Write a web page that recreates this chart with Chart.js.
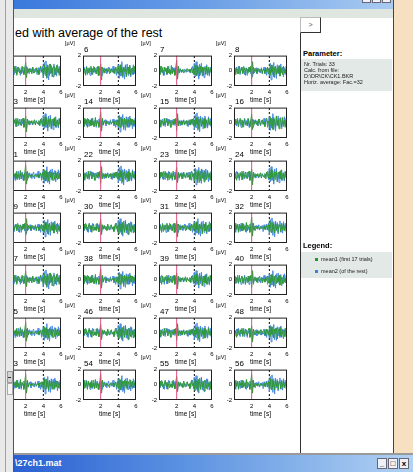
<!DOCTYPE html>
<html><head><meta charset="utf-8">
<script src="https://cdn.jsdelivr.net/npm/chart.js@4.4.1/dist/chart.umd.min.js"></script>
<style>
html,body{margin:0;padding:0;}
body{width:413px;height:472px;overflow:hidden;position:relative;background:#f7dfc2;font-family:"Liberation Sans",Arial,sans-serif;}
.abs{position:absolute;}
#left{left:0;top:0;width:13px;height:472px;background:#e9e9e9;}
#topbar{left:14px;top:0;width:379px;height:9px;background:linear-gradient(to right,#3a78dc,#6a9ee6 50%,#a9cbf1);}
#toolbar{left:14px;top:9px;width:379px;height:9px;background:#dfe5df;}
#main{left:14px;top:18px;width:286px;height:436px;background:#fff;overflow:hidden;}
#panel{left:300px;top:18px;width:93px;height:436px;background:#fff;}
#title{left:1px;top:8px;font-size:12.5px;line-height:15px;color:#000;white-space:nowrap;}
.num{font-size:8px;line-height:9px;color:#000;white-space:nowrap;}
.unit{font-size:5.5px;line-height:7px;color:#000;white-space:nowrap;}
.ptxt{font-size:5.5px;line-height:6px;color:#222;white-space:nowrap;}
.hdr{font-size:7.5px;line-height:9px;font-weight:bold;color:#000;}
#bottombar{left:14px;top:455px;width:399px;height:17px;background:linear-gradient(to right,#2a60d2,#5f95e2 45%,#b2d2f3);}
.btn{background:#eef2f8;border:1px solid #667;box-sizing:border-box;font-size:8px;line-height:9px;text-align:center;color:#000;font-weight:bold;}
canvas{position:absolute;}
</style></head>
<body>
<div id="left" class="abs">
  <div class="abs" style="left:5px;top:0;width:1px;height:472px;background:#a0a0a0"></div>
  <div class="abs" style="left:7px;top:371px;width:6px;height:12px;background:#d2d2d2;border:1px solid #999;box-sizing:border-box"></div>
  <div class="abs" style="left:8px;top:377px;width:3px;height:1px;background:#333"></div>
  <div class="abs" style="left:7px;top:383px;width:6px;height:12px;background:#f4f4f4;border:1px solid #aaa;box-sizing:border-box"></div>
</div>
<div class="abs" style="left:13px;top:0;width:1px;height:472px;background:#555"></div>
<div id="topbar" class="abs">
  <div class="abs btn" style="left:348px;top:-6px;width:9px;height:9px"></div>
  <div class="abs btn" style="left:358px;top:-6px;width:9px;height:9px"></div>
  <div class="abs btn" style="left:368px;top:-6px;width:9px;height:9px"></div>
</div>
<div id="toolbar" class="abs"></div>
<div id="main" class="abs"><div id="title" class="abs">ed with average of the rest</div></div>
<div id="panel" class="abs">
  <div class="abs" style="left:0;top:15px;width:1px;height:421px;background:#333"></div>
  <div class="abs" style="left:0;top:-1px;width:21px;height:16px;background:#fff;border-top:1px solid #bbb;border-left:1px solid #bbb;border-right:1px solid #333;border-bottom:1px solid #333;box-sizing:border-box;font-size:7px;line-height:14px;text-align:center;color:#555">&gt;</div>
  <div class="abs hdr" style="left:3px;top:31px">Parameter:</div>
  <div class="abs" style="left:1px;top:41px;width:91px;height:32px;background:#e3e9e7"></div>
  <div class="abs ptxt" style="left:4px;top:43px">Nr. Trials: 33</div>
  <div class="abs ptxt" style="left:4px;top:49px">Calc. from file:</div>
  <div class="abs ptxt" style="left:4px;top:55px">D:\DR\CK\CK1.BKR</div>
  <div class="abs ptxt" style="left:4px;top:61px">Horiz. average: Fac.=32</div>
  <div class="abs hdr" style="left:3px;top:223px">Legend:</div>
  <div class="abs" style="left:1px;top:234px;width:91px;height:26px;background:#e3e9e7"></div>
  <div class="abs" style="left:15px;top:240px;width:3px;height:3px;background:#1f9a2a"></div>
  <div class="abs ptxt" style="left:21px;top:238px">mean1 (first 17 trials)</div>
  <div class="abs" style="left:15px;top:252px;width:3px;height:3px;background:#3f7fe0"></div>
  <div class="abs ptxt" style="left:21px;top:250px">mean2 (of the rest)</div>
</div>
<div class="abs" style="left:393px;top:0;width:1px;height:455px;background:#444"></div>
<div class="abs" style="left:14px;top:453px;width:399px;height:2px;background:#9a9a9a"></div>
<div id="bottombar" class="abs">
  <div class="abs" style="left:1px;top:3px;font-size:9px;line-height:11px;font-weight:bold;color:#fff">\27ch1.mat</div>
  <div class="abs btn" style="left:363px;top:3px;width:10px;height:11px">_</div>
  <div class="abs btn" style="left:374px;top:3px;width:10px;height:11px">□</div>
  <div class="abs btn" style="left:385px;top:3px;width:10px;height:11px">x</div>
</div>
<script>
// ---- data ----
const timeSec = [0,0.1,0.2,0.3,0.4,0.5,0.6,0.7,0.8,0.9,1,1.1,1.2,1.3,1.4,1.5,1.6,1.7,1.8,1.9,2,2.1,2.2,2.3,2.4,2.5,2.6,2.7,2.8,2.9,3,3.1,3.2,3.3,3.4,3.5,3.6,3.7,3.8,3.9,4,4.1,4.2,4.3,4.4,4.5,4.6,4.7,4.8,4.9,5,5.1,5.2,5.3,5.4,5.5,5.6,5.7,5.8,5.9,6];

const mean1A = [0.2,-0.3,0.5,-0.1,0.4,-0.5,0.1,0.6,-0.2,0.3, -0.6,0.2,0.5,-0.3,0.1,-0.4,0.6,0.0,-0.5,0.3, 1.1,-0.9,0.4,-0.2,0.3,-0.1,0.2,-0.4,0.5,0.0, -0.3,0.2,0.4,-0.2,0.1,-0.5,0.3,0.6,-0.1,0.2, -0.7,0.8,-0.4,0.5,-0.9,0.7,0.1,-0.6,0.9,-0.3, 0.4,-0.8,0.6,0.2,-0.5,0.7,-0.2,0.3,-0.6,0.4, 0.1];
const mean1B = [-0.4,0.3,0.1,-0.6,0.5,0.2,-0.3,0.4,-0.1,0.6, -0.5,0.3,-0.2,0.5,0.0,-0.4,0.3,0.6,-0.6,-0.2, 0.9,-1.2,0.5,0.1,-0.3,0.2,0.0,0.3,-0.2,0.1, 0.4,-0.3,0.2,0.0,-0.2,0.3,-0.4,0.5,0.1,-0.3, 0.6,-0.5,0.8,-0.2,0.4,-0.7,0.5,-0.1,0.6,-0.8, 0.3,0.5,-0.4,0.7,-0.6,0.2,0.4,-0.5,0.6,-0.2, 0.3];
const mean1C = [0.3,-0.5,0.6,-0.2,0.4,-0.6,0.5,-0.1,0.3,-0.4, 0.6,-0.3,0.2,-0.5,0.7,-0.4,0.3,0.1,-0.6,0.4, 1.4,-1.1,0.6,-0.3,0.2,0.1,-0.1,0.2,0.0,-0.2, 0.1,0.2,-0.1,0.0,0.2,-0.2,0.1,0.3,-0.3,0.4, -0.5,0.8,-0.6,0.7,-0.3,0.5,-0.7,0.6,-0.2,0.5, -0.6,0.4,0.2,-0.5,0.6,-0.3,0.5,-0.4,0.3,-0.2, 0.2];
const mean1D = [-0.2,0.4,-0.5,0.3,0.1,-0.4,0.6,-0.3,0.2,0.5, -0.4,0.1,0.4,-0.6,0.3,0.2,-0.3,0.5,-0.1,0.6, -1.0,1.2,-0.4,0.3,-0.1,0.2,-0.3,0.1,0.3,-0.2, 0.0,0.3,-0.4,0.2,0.1,-0.3,0.4,-0.1,0.5,-0.4, 0.3,-0.6,0.7,-0.2,0.5,-0.8,0.4,0.6,-0.5,0.3, -0.3,0.6,-0.7,0.4,0.1,-0.5,0.6,-0.3,0.2,-0.4, 0.3];

const mean2A = [0.4,-0.2,-0.6,0.3,0.5,-0.3,0.2,-0.5,0.6,0.1, -0.4,0.5,-0.1,0.3,-0.6,0.4,0.2,-0.3,0.5,-0.2, -0.5,0.6,-0.3,0.2,-0.4,0.3,0.1,-0.2,0.4,-0.3, 0.2,-0.1,0.3,-0.5,0.4,0.0,-0.3,0.5,-0.2,0.6, -0.9,1.1,-0.6,1.3,-1.0,0.8,-1.2,0.9,-0.4,0.7, -0.8,0.5,0.9,-0.6,0.4,-0.7,0.8,-0.3,0.6,-0.5, 0.4];
const mean2B = [-0.3,0.5,0.2,-0.4,0.6,-0.5,0.3,0.1,-0.6,0.4, 0.2,-0.5,0.6,-0.2,0.3,-0.4,0.5,-0.6,0.2,0.4, -0.3,0.5,-0.6,0.1,0.4,-0.2,0.3,-0.4,0.2,0.5, -0.4,0.1,0.3,-0.2,0.6,-0.3,0.2,0.4,-0.6,0.3, 0.8,-1.0,0.6,-0.7,1.2,-0.9,0.5,-1.1,0.8,-0.4, 0.9,-0.6,0.4,0.7,-0.8,0.3,-0.5,0.8,-0.4,0.6, -0.2];
const mean2C = [0.5,-0.4,0.2,0.6,-0.3,0.1,-0.6,0.4,0.3,-0.5, 0.2,0.6,-0.4,0.1,-0.3,0.5,-0.2,0.4,-0.5,0.3, 0.6,-0.7,0.2,-0.1,0.3,-0.2,0.1,0.0,-0.3,0.2, 0.1,-0.2,0.3,0.0,-0.1,0.2,-0.3,0.4,0.6,-0.5, 1.0,-0.8,1.2,-0.6,0.7,-1.1,0.9,-0.5,1.0,-0.7, 0.5,-0.9,0.6,-0.4,0.8,-0.6,0.3,-0.7,0.5,-0.2, 0.4];
const mean2D = [-0.5,0.3,-0.1,0.5,-0.4,0.6,-0.2,-0.5,0.4,0.1, -0.3,0.6,-0.5,0.2,0.4,-0.6,0.3,-0.1,0.5,-0.4, 0.4,-0.8,0.5,-0.3,0.2,0.4,-0.4,0.3,-0.1,0.2, -0.3,0.4,-0.2,0.1,0.5,-0.4,0.3,-0.6,0.4,0.2, -0.7,1.0,-1.2,0.8,-0.5,1.1,-0.9,0.6,-1.0,0.8, -0.4,0.7,-0.6,0.9,-0.3,0.5,-0.8,0.4,-0.5,0.6, -0.3];

const mean1Sets = [mean1A, mean1B, mean1C, mean1D];
const mean2Sets = [mean2A, mean2B, mean2C, mean2D];

const plotNumbers = [[5,6,7,8],[13,14,15,16],[21,22,23,24],[29,30,31,32],[37,38,39,40],[45,46,47,48],[53,54,55,56]];
// which hand-read trace goes in which panel [row][col]
const mean1Pick = [[0,1,2,3],[1,2,3,0],[2,3,0,1],[3,0,1,2],[0,2,1,3],[2,0,3,1],[2,2,0,2]];
const mean2Pick = [[0,1,2,3],[2,3,0,1],[1,0,3,2],[3,2,1,0],[0,3,2,1],[1,2,0,3],[3,1,2,0]];
const xTicks = [2,4,6];
const yTicks = [-2,0,2];
const redMarkerTime = 2;
const dashedMarkerTime = 4;

// ---- layout ----
const colLeft = [8,83,159,234];
const rowTop = [55,107,160,212,264,317,369];
const boxW = 53, boxH = 31;
const padL = 18, padT = 5, padR = 5, padB = 22;
const mainX = 14, mainY = 18;
const FONT = 'Liberation Sans';

const frame = {
  id:'frame',
  afterDatasetsDraw(chart){
    const {ctx, chartArea:a} = chart;
    ctx.save();
    ctx.strokeStyle = '#222';
    ctx.lineWidth = 1;
    ctx.strokeRect(a.left+0.5, a.top+0.5, a.right-a.left-1, a.bottom-a.top-1);
    ctx.restore();
  }
};

const main = document.getElementById('main');
function pts(arr){ return arr.map((v,i)=>({x:timeSec[i], y:v})); }

for (let r=0;r<rowTop.length;r++){
  for (let c=0;c<colLeft.length;c++){
    const L = colLeft[c], T = rowTop[r];
    const cv = document.createElement('canvas');
    cv.width = padL+boxW+padR; cv.height = padT+boxH+padB;
    cv.style.left = (L-padL-mainX)+'px';
    cv.style.top = (T-padT-mainY)+'px';
    main.appendChild(cv);

    const num = document.createElement('div');
    num.className='abs num'; num.textContent = plotNumbers[r][c];
    num.style.left=(L+1-mainX)+'px'; num.style.top=(T-10-mainY)+'px';
    main.appendChild(num);
    const unit = document.createElement('div');
    unit.className='abs unit'; unit.textContent='[µV]';
    unit.style.left=(L-18-mainX)+'px'; unit.style.top=(T-15-mainY)+'px';
    main.appendChild(unit);

    new Chart(cv.getContext('2d'), {
      type:'line',
      data:{datasets:[
        {label:'stim', data:[{x:redMarkerTime,y:-2},{x:redMarkerTime,y:2}], borderColor:'#e2507f', borderWidth:1, pointRadius:0, order:0},
        {label:'mean1 (first 17 trials)', data:pts(mean1Sets[mean1Pick[r][c]]), borderColor:'#2f9a36', borderWidth:1, pointRadius:0, tension:0, order:1},
        {label:'mean2 (of the rest)', data:pts(mean2Sets[mean2Pick[r][c]]), borderColor:'#4a8ae0', borderWidth:1, pointRadius:0, tension:0, order:2},
        {label:'cue', data:[{x:dashedMarkerTime,y:-2},{x:dashedMarkerTime,y:2}], borderColor:'#000', borderWidth:1, borderDash:[2,2], pointRadius:0, order:3}
      ]},
      options:{
        responsive:false, animation:false, devicePixelRatio:1, events:[],
        layout:{padding:{left:0,top:padT,right:padR,bottom:0}},
        plugins:{legend:{display:false}, tooltip:{enabled:false}},
        scales:{
          x:{type:'linear', min:0, max:6,
             afterFit(s){ s.height = padB; },
             afterBuildTicks(s){ s.ticks = [0].concat(xTicks).map(v=>({value:v})); },
             grid:{display:false, drawTicks:false}, border:{display:false},
             ticks:{padding:3, autoSkip:false, maxRotation:0, color:'#000', font:{family:FONT,size:6}, callback:v=> v===0?'':String(v)},
             title:{display:true, text:'time [s]', color:'#000', font:{family:FONT,size:6.5}, padding:{top:0,bottom:4}}},
          y:{type:'linear', min:-2, max:2,
             afterFit(s){ s.width = padL; },
             afterBuildTicks(s){ s.ticks = yTicks.map(v=>({value:v})); },
             grid:{display:false, drawTicks:false}, border:{display:false},
             ticks:{padding:2, autoSkip:false, color:'#000', font:{family:FONT,size:6}}}
        }
      },
      plugins:[frame]
    });
  }
}
</script>
</body></html>
